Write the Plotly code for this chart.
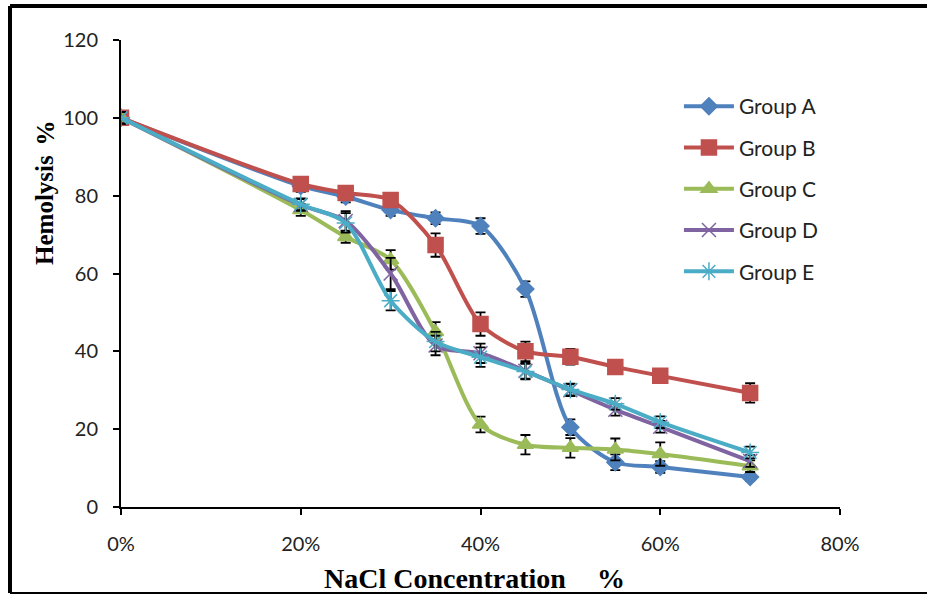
import plotly.graph_objects as go

# NaCl concentration (fraction) and hemolysis (%) per group
nacl = [0.0, 0.20, 0.25, 0.30, 0.35, 0.40, 0.45, 0.50, 0.55, 0.60, 0.70]

group_a = [100, 82.5, 79.8, 76.3, 74.2, 72.2, 56.0, 20.5, 11.5, 10.3, 7.7]
group_b = [100, 83.0, 80.7, 78.9, 67.3, 47.0, 40.0, 38.6, 36.0, 33.7, 29.3]
group_c = [100, 76.3, 69.4, 63.5, 45.0, 21.2, 16.0, 15.2, 14.8, 13.6, 10.5]
group_d = [100, 77.6, 73.5, 60.0, 41.5, 39.5, 35.0, 30.0, 25.0, 20.6, 11.8]
group_e = [100, 77.8, 73.0, 53.0, 42.5, 38.5, 34.8, 30.2, 26.5, 21.8, 14.0]

err_a = [1.5, 1.5, 1.5, 1.5, 1.5, 2.0, 2.0, 2.0, 2.0, 1.5, 1.0]
err_b = [1.5, 1.5, 1.5, 1.5, 3.0, 3.0, 2.5, 2.0, 1.8, 1.8, 2.5]
err_c = [1.5, 1.5, 1.5, 2.5, 2.5, 2.0, 2.5, 2.5, 2.8, 3.0, 1.5]
err_d = [1.5, 1.5, 2.5, 4.0, 2.5, 2.5, 2.0, 1.5, 1.5, 1.5, 1.5]
err_e = [1.5, 1.5, 2.5, 2.5, 2.5, 2.5, 2.0, 1.5, 1.5, 1.5, 1.5]

names = ["Group A", "Group B", "Group C", "Group D", "Group E"]
values = [group_a, group_b, group_c, group_d, group_e]
errors = [err_a, err_b, err_c, err_d, err_e]
colors = ["#4F81BD", "#C0504D", "#9BBB59", "#8064A2", "#4BACC6"]
symbols = ["diamond", "square", "triangle-up", "x-thin-open", "asterisk-open"]
sizes = [13, 15, 14, 14, 15]

fig = go.Figure()
for name, y, e, c, s, sz in zip(names, values, errors, colors, symbols, sizes):
    fig.add_trace(go.Scatter(
        x=nacl, y=y, name=name, mode="lines+markers",
        line=dict(color=c, width=4, shape="spline", smoothing=0.8),
        marker=dict(symbol=s, size=sz, color=c,
                    line=dict(color=c, width=1.5)),
        error_y=dict(type="data", array=e, visible=True,
                     color="black", thickness=1.8, width=5),
        legendgroup=name,
    ))

tick_font = dict(family="Lato, Open Sans, sans-serif", size=20, color="#222222")
title_font = dict(family="Liberation Serif, Times New Roman, serif",
                  size=28, color="black")
ytitle_font = dict(family="Liberation Serif, Times New Roman, serif",
                   size=25, color="black")

fig.update_layout(
    width=927, height=595,
    margin=dict(l=121, r=87, t=40, b=88),
    paper_bgcolor="white", plot_bgcolor="white",
    showlegend=True,
    legend=dict(x=0.776, y=0.9015, xanchor="left", yanchor="top",
                font=dict(family="Lato, Open Sans, sans-serif", size=21,
                          color="#222222"),
                tracegroupgap=11, itemwidth=50,
                bgcolor="rgba(0,0,0,0)"),
    xaxis=dict(range=[0, 0.8], tickvals=[0, 0.2, 0.4, 0.6, 0.8],
               tickformat=".0%", showgrid=False, zeroline=False,
               showline=True, linecolor="black", linewidth=2,
               ticks="outside", ticklen=6, tickwidth=2, tickcolor="black",
               tickfont=tick_font, ticklabelstandoff=12),
    yaxis=dict(range=[0, 120], tickvals=[0, 20, 40, 60, 80, 100, 120],
               showgrid=False, zeroline=False,
               showline=True, linecolor="black", linewidth=2,
               ticks="outside", ticklen=6, tickwidth=2, tickcolor="black",
               tickfont=tick_font, ticklabelstandoff=11),
)

# axis titles
fig.add_annotation(text="<b>NaCl Concentration</b>", xref="paper", yref="paper",
                   x=0.4513, y=-0.154, xanchor="center", yanchor="middle",
                   showarrow=False, font=title_font)
fig.add_annotation(text="<b>%</b>", xref="paper", yref="paper",
                   x=0.682, y=-0.154, xanchor="center", yanchor="middle",
                   showarrow=False, font=title_font)
fig.add_annotation(text="<b>Hemolysis</b>", xref="paper", yref="paper",
                   x=-0.1057, y=0.636, xanchor="center", yanchor="middle",
                   textangle=-90, showarrow=False, font=ytitle_font)
fig.add_annotation(text="<b>%</b>", xref="paper", yref="paper",
                   x=-0.1057, y=0.80, xanchor="center", yanchor="middle",
                   textangle=-90, showarrow=False, font=ytitle_font)

# outer frame (left, top, bottom edges)
frame = dict(type="line", xref="paper", yref="paper",
             line=dict(color="black", width=4))
x_left = (10 - 121) / 719
x_right = (927 - 121) / 719
y_top = (507 - 6) / 467
y_bot = (507 - 593) / 467
fig.add_shape(**frame, x0=x_left, x1=x_left, y0=y_bot, y1=y_top)
fig.add_shape(**frame, x0=x_left, x1=x_right, y0=y_top, y1=y_top)
fig.add_shape(type="line", xref="paper", yref="paper",
              line=dict(color="black", width=2),
              x0=x_left, x1=x_right, y0=y_bot, y1=y_bot)

fig.write_html("out.html")
